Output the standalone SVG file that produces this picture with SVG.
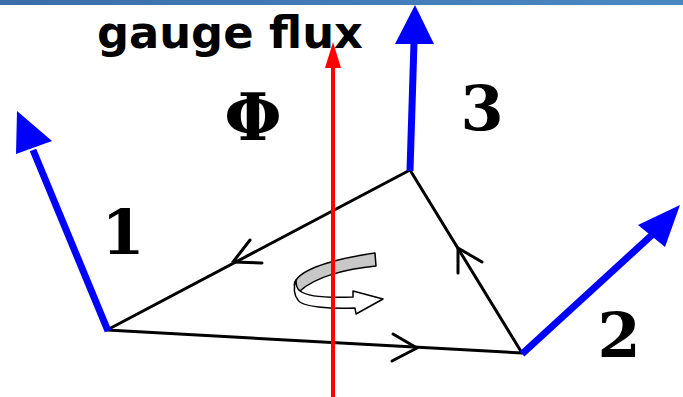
<svg xmlns="http://www.w3.org/2000/svg" width="683" height="397" viewBox="0 0 683 397">
<defs>
<linearGradient id="bar" x1="0" y1="0" x2="1" y2="0">
<stop offset="0" stop-color="#3b6ea8"/>
<stop offset="1" stop-color="#4a88c4"/>
</linearGradient>
</defs>
<style>
.edge{fill:none;stroke:#000;stroke-width:3;stroke-linecap:round;stroke-linejoin:round}
.blue{fill:none;stroke:#0000ff;stroke-width:7}
.bhead{fill:#0000ff}
.num{font-family:"DejaVu Serif","Liberation Serif",serif;font-weight:bold;fill:#000}
.title{font-family:"Comic Sans MS","DejaVu Sans",sans-serif;font-weight:bold;fill:#000}
</style>
<rect id="topbar" x="0" y="0" width="683" height="5" fill="url(#bar)"/>
<text id="title" class="title" x="97" y="48" font-size="44" textLength="266" lengthAdjust="spacingAndGlyphs">gauge flux</text>
<g id="connectors">
<polyline class="edge" points="107,330 522,353 410,170 107,330"/>
<polyline class="edge" points="393,334 417,348 392,361"/>
<polyline class="edge" points="458,273 458,248 482,262"/>
<polyline class="edge" points="250,240 233,262 262,263"/>
</g>
<g id="vector1">
<line class="blue" x1="108" y1="331" x2="33" y2="150"/>
<polygon class="bhead" points="17,111 52,141 16,154"/>
</g>
<g id="vector2">
<line class="blue" x1="522" y1="354" x2="653" y2="234"/>
<polygon class="bhead" points="680,205 665,247 638,225"/>
</g>
<g id="vector3">
<line class="blue" x1="410" y1="171" x2="414" y2="42"/>
<polygon class="bhead" points="415,5 434,44 395,44"/>
</g>
<g id="rotation">
<path d="M375,253 L376,266 C345,269 315,277 300,291 C294,288 293,284 296,280 C305,267 340,258 375,253 Z" fill="#c8c8c8" stroke="#000" stroke-width="1.5" stroke-linejoin="round"/>
<path d="M300,291 C308,297 330,298 353,297 L353,291 L383,299 L356,314 L355,308 C330,309 302,307 298,300 C294,295 293,287 296,280 C296,285 297,289 300,291 Z" fill="#fff" stroke="#000" stroke-width="1.5" stroke-linejoin="round"/>
</g>
<g id="flux">
<line x1="333" y1="397" x2="333" y2="64" stroke="#ff0000" stroke-width="4"/>
<polygon points="333,42 341,68 325,68" fill="#ff0000"/>
</g>
<text id="phi" class="num" x="253" y="140" font-size="66" text-anchor="middle">Φ</text>
<text id="label1" class="num" x="123" y="254" font-size="62" text-anchor="middle">1</text>
<text id="label2" class="num" x="619" y="357" font-size="62" text-anchor="middle">2</text>
<text id="label3" class="num" x="482" y="130" font-size="62" text-anchor="middle">3</text>
</svg>
